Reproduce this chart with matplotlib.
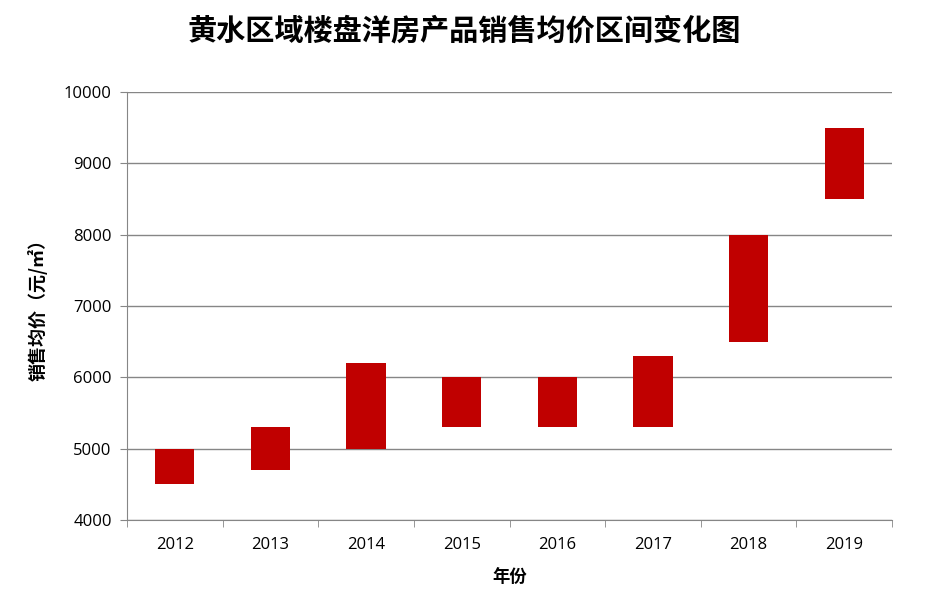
import matplotlib.pyplot as plt

years = ["2012", "2013", "2014", "2015", "2016", "2017", "2018", "2019"]
low_price = [4500, 4700, 5000, 5300, 5300, 5300, 6500, 8500]
high_price = [5000, 5300, 6200, 6000, 6000, 6300, 8000, 9500]

plt.rcParams['font.family'] = ['Noto Sans CJK SC', 'DejaVu Sans']

fig = plt.figure(figsize=(9.28, 6.15), dpi=100)
ax = fig.add_axes([0.1369, 0.1545, 0.8243, 0.6959])

# floating bars: bottom = low, height = high - low
heights = [h - l for h, l in zip(high_price, low_price)]
x = list(range(len(years)))
ax.bar(x, heights, bottom=low_price, width=0.41, color='#C00000', zorder=3)

ax.set_xlim(-0.5, len(years) - 0.5)
ax.set_ylim(4000, 10000)
ax.set_yticks(range(4000, 10001, 1000))
ax.grid(axis='y', color='#868686', linewidth=1, zorder=0)

ax.set_xticks(x)
ax.set_xticklabels(years)
ax.set_xticks([i - 0.5 for i in range(len(years) + 1)], minor=True)
ax.tick_params(axis='x', which='major', length=0, pad=12)
ax.tick_params(axis='x', which='minor', length=5, color='#868686')
ax.tick_params(axis='y', length=5, color='#868686', pad=6)
for lab in ax.get_xticklabels() + ax.get_yticklabels():
    lab.set_family(['Open Sans', 'DejaVu Sans'])
    lab.set_fontsize(12)

for s in ['top', 'right']:
    ax.spines[s].set_visible(False)
ax.spines['left'].set_color('#868686')
ax.spines['bottom'].set_color('#868686')

ax.set_ylabel("销售均价（元/㎡）", fontsize=13, fontweight='bold', labelpad=12)
ax.set_xlabel("年份", fontsize=12.5, fontweight='bold', labelpad=12)
fig.suptitle("黄水区域楼盘洋房产品销售均价区间变化图", fontsize=21, fontweight='bold', y=0.975)

fig.savefig("out.png", dpi=100)
